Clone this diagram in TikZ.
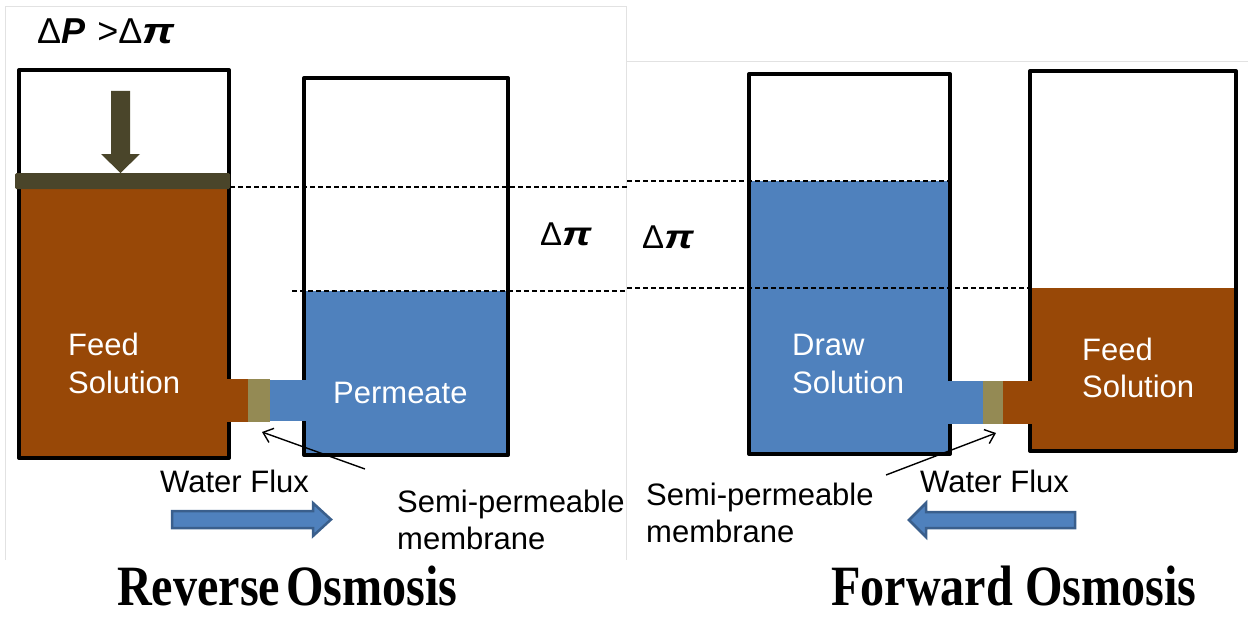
\documentclass[tikz,border=0pt]{standalone}
\usepackage{graphicx}
\usepackage{fontspec}
\setmainfont{Liberation Sans}
\newfontfamily\titlefont{Liberation Serif}
\usetikzlibrary{arrows.meta}

\definecolor{feedbrown}{HTML}{984807}
\definecolor{waterblue}{HTML}{4F81BD}
\definecolor{arrowedge}{HTML}{3A5F8C}
\definecolor{pistoncol}{HTML}{4A452A}
\definecolor{membcol}{HTML}{948A54}
\definecolor{panelgray}{HTML}{E2E2E2}

\newcommand{\bipi}{\textbf{\textit{\scalebox{1.25}[1]{π}}}}

\begin{document}
\begin{tikzpicture}[x=1pt,y=-1pt,
  tankwall/.style={line width=4pt, line join=round, draw=black},
  levelline/.style={line width=1.1pt, dash pattern=on 5pt off 3pt},
  label/.style={font=\fontsize{31}{36}\selectfont, inner sep=0pt, anchor=base west},
  inlabel/.style={label, text=white},
  greek/.style={font=\fontsize{33}{36}\selectfont, inner sep=0pt, anchor=base west},
  biggreek/.style={greek, font=\fontsize{36}{40}\selectfont},
  title/.style={font=\titlefont\bfseries\fontsize{57}{60}\selectfont, inner sep=0pt,
    anchor=base west, text depth=0pt},
  pointer/.style={line width=1.4pt, -{Straight Barb[length=9pt,width=15pt,line width=1.4pt]}},
  fluxarrow/.style={fill=waterblue, draw=arrowedge, line width=2.5pt, line join=miter},
  panel/.style={draw=panelgray, line width=1pt}]

\useasboundingbox (0,0) rectangle (1248,618);

% panel frames
\draw[panel] (5,560) -- (5,7) -- (627,7);
\draw[panel] (626,7) -- (626,560);
\draw[panel] (626,62) -- (1248,62);

% ---------------- Reverse osmosis ----------------
\coordinate (L1nw) at (19,70);  \coordinate (L1se) at (229,458);
\coordinate (L2nw) at (304,78); \coordinate (L2se) at (508,455);

% liquids
\fill[feedbrown] (19,188) rectangle (L1se);
\fill[waterblue] (304,291) rectangle (L2se);
% tank walls
\draw[tankwall] (L1nw) rectangle (L1se);
\draw[tankwall] (L2nw) rectangle (L2se);

% piston and pressure arrow
\fill[pistoncol, rounded corners=1.5pt] (15,173) rectangle (230,189);
\fill[pistoncol] (111,91) -- (130,91) -- (130,154) -- (140,154) -- (120.5,173)
  -- (101,154) -- (111,154) -- cycle;

% connecting channel with membrane
\fill[feedbrown] (225,379) rectangle (248,422);
\node[fill=membcol, minimum width=22pt, minimum height=43pt, inner sep=0pt,
  anchor=north west] (memL) at (248,379) {};
\fill[waterblue] (270,380) rectangle (306,421);

% level lines
\draw[levelline] (230,187) -- (627,187);
\draw[levelline] (292,291) -- (627,291);

% texts
\node[biggreek] (dP) at (37,44) {Δ\textbf{\textit{P}} \kern2pt>Δ\bipi};
\node[greek] (dpiL) at (540,245) {Δ\bipi};
\node[inlabel] (feedL1) at (68,355) {Feed};
\node[inlabel] (feedL2) at (68,393) {Solution};
\node[inlabel] (perm) at (333,403) {Permeate};
\node[label] (fluxL) at (160,492) {Water Flux};
\node[label] (semiL1) at (397,512) {Semi-permeable};
\node[label] (semiL2) at (397,549) {membrane};

\coordinate (ptrLtail) at (365,469);
\coordinate (ptrLtip) at (262,432);
\draw[pointer] (ptrLtail) -- (ptrLtip);

\draw[fluxarrow] (172,511) -- (313,511) -- (313,503) -- (331,519.5) -- (313,536)
  -- (313,528) -- (172,528) -- cycle;

\node[title] (ro) at (117,605) {\scalebox{0.845}[1]{Reverse\hspace{0.12em}Osmosis}};

% ---------------- Forward osmosis ----------------
\coordinate (R1nw) at (749,74);  \coordinate (R1se) at (950,454);
\coordinate (R2nw) at (1030,71); \coordinate (R2se) at (1236,451);

\fill[waterblue] (749,181) rectangle (R1se);
\fill[feedbrown] (1030,288) rectangle (R2se);
\draw[tankwall] (R1nw) rectangle (R1se);
\draw[tankwall] (R2nw) rectangle (R2se);

\fill[waterblue] (948,381) rectangle (983,424);
\node[fill=membcol, minimum width=20pt, minimum height=43pt, inner sep=0pt,
  anchor=north west] (memR) at (983,381) {};
\fill[feedbrown] (1003,381) rectangle (1033,424);

\draw[levelline] (627,181) -- (950,181);
\draw[levelline] (627,288) -- (1032,288);

\node[greek] (dpiR) at (642,248) {Δ\bipi};
\node[inlabel] (draw1) at (792,355) {Draw};
\node[inlabel] (draw2) at (792,393) {Solution};
\node[inlabel] (feedR1) at (1082,360) {Feed};
\node[inlabel] (feedR2) at (1082,397) {Solution};
\node[label] (fluxR) at (920,492) {Water Flux};
\node[label] (semiR1) at (646,505) {Semi-permeable};
\node[label] (semiR2) at (646,542) {membrane};

\coordinate (ptrRtail) at (886,475);
\coordinate (ptrRtip) at (996,433);
\draw[pointer] (ptrRtail) -- (ptrRtip);

\draw[fluxarrow] (1075,512) -- (926,512) -- (926,503) -- (909,520) -- (926,537)
  -- (926,528) -- (1075,528) -- cycle;

\node[title] (fo) at (831,605) {\scalebox{0.845}[1]{Forward Osmosis}};

\end{tikzpicture}
\end{document}
